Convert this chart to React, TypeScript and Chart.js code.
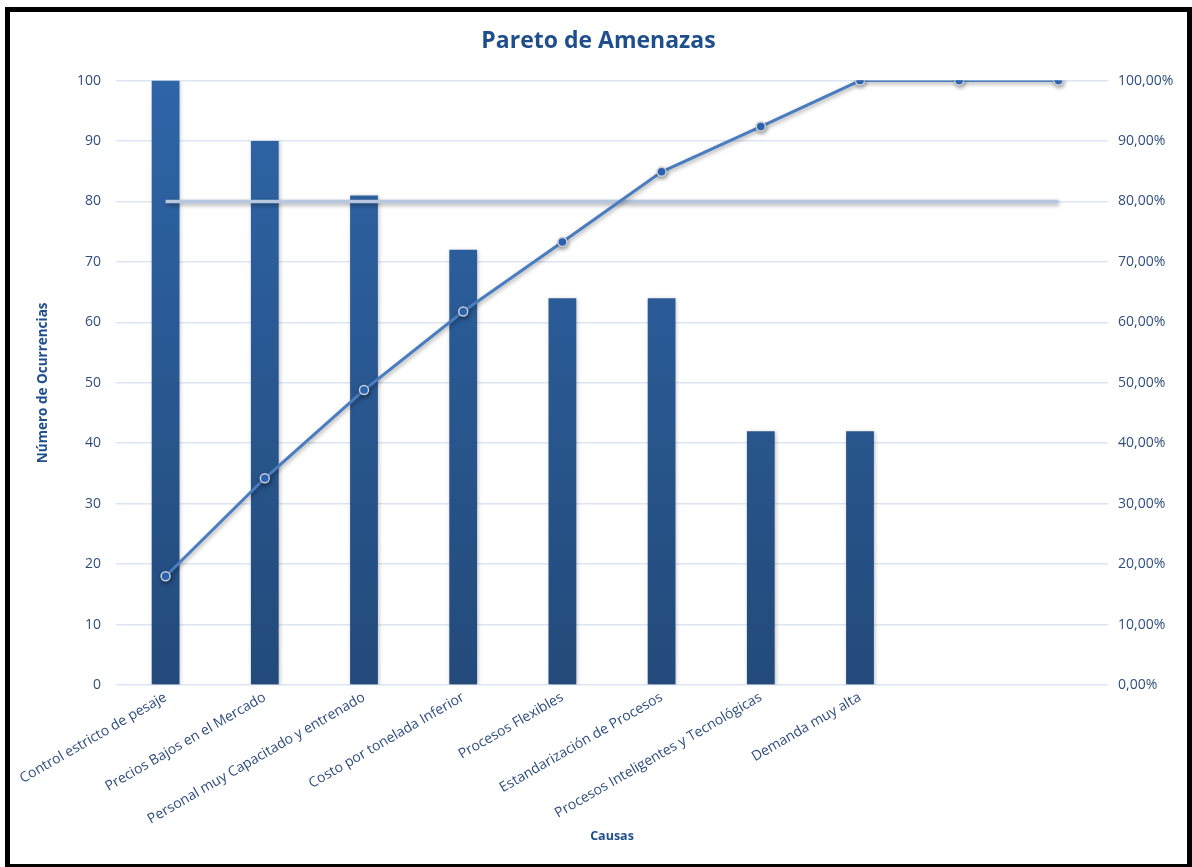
import React, { useEffect, useRef } from "react";
import { Chart, registerables } from "chart.js";

Chart.register(...registerables);

const categories = [
  "Control estricto de pesaje",
  "Precios Bajos en el Mercado",
  "Personal muy Capacitado y entrenado",
  "Costo por tonelada Inferior",
  "Procesos Flexibles",
  "Estandarización de Procesos",
  "Procesos Inteligentes y Tecnológicas",
  "Demanda muy alta",
  "",
  "",
];
const occurrences = [100, 90, 81, 72, 64, 64, 42, 42, null, null];
const cumulativePct = [18.0, 34.2, 48.8, 61.8, 73.3, 84.9, 92.4, 100, 100, 100];
const thresholdPct = [80, 80, 80, 80, 80, 80, 80, 80, 80, 80];
const leftTicks = [0, 10, 20, 30, 40, 50, 60, 70, 80, 90, 100];

const FONT = "'Open Sans', 'Noto Sans', sans-serif";
const TICK_COLOR = "#2F4E7E";
const TITLE_COLOR = "#1F4E8C";

export default function App() {
  const ref = useRef<HTMLCanvasElement | null>(null);

  useEffect(() => {
    document.body.style.margin = "0";
    document.body.style.overflow = "hidden";
    const canvas = ref.current;
    if (!canvas) return;

    const barGradient = (ctx: any) => {
      const chart = ctx.chart;
      const el = ctx.element as any;
      if (!chart.chartArea || !el) return "#2B5D9B";
      const top = el.y ?? chart.chartArea.top;
      const base = el.base ?? chart.chartArea.bottom;
      if (!isFinite(top) || !isFinite(base) || top === base) return "#2B5D9B";
      const g = chart.ctx.createLinearGradient(0, top, 0, base);
      g.addColorStop(0, "#2E65A7");
      g.addColorStop(1, "#234A7A");
      return g;
    };

    const shadowPlugin = {
      id: "shadows",
      beforeDatasetDraw(chart: any, args: any) {
        const c = chart.ctx;
        c.save();
        if (args.index === 0) {
          c.shadowColor = "rgba(0,0,0,0.25)";
          c.shadowBlur = 4;
          c.shadowOffsetX = 1;
          c.shadowOffsetY = 1;
        } else {
          c.shadowColor = "rgba(0,0,0,0.35)";
          c.shadowBlur = 4;
          c.shadowOffsetX = 1;
          c.shadowOffsetY = 2;
        }
      },
      afterDatasetDraw(chart: any) {
        chart.ctx.restore();
      },
    };

    const chart = new Chart(canvas, {
      type: "bar",
      data: {
        labels: categories,
        datasets: [
          {
            type: "bar",
            label: "Número de Ocurrencias",
            data: occurrences as any,
            backgroundColor: barGradient as any,
            borderWidth: 0,
            barPercentage: 0.28,
            categoryPercentage: 1,
            yAxisID: "y",
            order: 3,
          },
          {
            type: "line",
            label: "80%",
            data: thresholdPct,
            borderColor: "#B7C7DF",
            borderWidth: 3.5,
            pointRadius: 0,
            pointHoverRadius: 0,
            yAxisID: "y1",
            order: 2,
          },
          {
            type: "line",
            label: "% Acumulado",
            data: cumulativePct,
            borderColor: "#4A7DC0",
            borderWidth: 3,
            pointRadius: 4.5,
            pointBackgroundColor: "#2E6BBE",
            pointBorderColor: "#C9CED8",
            pointBorderWidth: 1.5,
            yAxisID: "y1",
            order: 1,
          },
        ],
      },
      options: {
        animation: false,
        responsive: false,
        maintainAspectRatio: false,
        layout: { padding: { left: 0, right: 0, top: 0, bottom: 0 } },
        plugins: {
          legend: { display: false },
          tooltip: { enabled: false },
          title: {
            display: true,
            text: "Pareto de Amenazas",
            color: TITLE_COLOR,
            font: { family: FONT, size: 23, weight: "bold" },
            padding: { top: 16, bottom: 25 },
          },
        },
        scales: {
          x: {
            grid: { display: false, drawTicks: false },
            border: { display: false },
            ticks: {
              color: TICK_COLOR,
              font: { family: FONT, size: 14 },
              maxRotation: 30,
              minRotation: 30,
              autoSkip: false,
              padding: 4,
            },
            title: {
              display: true,
              text: "Causas",
              color: TITLE_COLOR,
              font: { family: FONT, size: 12.5, weight: "bold" },
              padding: { top: 0, bottom: 20 },
            },
            afterFit(scale: any) {
              scale.height = 179;
            },
          },
          y: {
            position: "left",
            min: 0,
            max: 100,
            afterBuildTicks(scale: any) {
              scale.ticks = leftTicks.map((v) => ({ value: v }));
            },
            grid: { color: "#DCE6F3", lineWidth: 1.5, drawTicks: false },
            border: { display: false },
            ticks: {
              color: TICK_COLOR,
              font: { family: FONT, size: 14 },
              padding: 15,
            },
            title: {
              display: true,
              text: "Número de Ocurrencias",
              color: TITLE_COLOR,
              font: { family: FONT, size: 13.5, weight: "bold" },
              padding: { top: 25, bottom: 0 },
            },
            afterFit(scale: any) {
              scale.width = 106;
            },
          },
          y1: {
            position: "right",
            min: 0,
            max: 100,
            afterBuildTicks(scale: any) {
              scale.ticks = leftTicks.map((v) => ({ value: v }));
            },
            grid: { display: false, drawTicks: false },
            border: { display: false },
            ticks: {
              color: TICK_COLOR,
              font: { family: FONT, size: 14 },
              padding: 10,
              callback: (v: any) => Number(v).toFixed(2).replace(".", ",") + "%",
            },
            afterFit(scale: any) {
              scale.width = 79;
            },
          },
        },
      },
      plugins: [shadowPlugin],
    });

    return () => chart.destroy();
  }, []);

  return (
    <div style={{ position: "relative", width: 1192, height: 867, background: "#fff" }}>
      <div
        style={{
          position: "absolute",
          left: 5,
          top: 7,
          width: 1187,
          height: 860,
          boxSizing: "border-box",
          borderStyle: "solid",
          borderColor: "#000",
          borderWidth: "5px 5px 3px 5px",
        }}
      />
      <canvas
        ref={ref}
        width={1177}
        height={852}
        style={{ position: "absolute", left: 10, top: 12, width: 1177, height: 852 }}
      />
    </div>
  );
}
